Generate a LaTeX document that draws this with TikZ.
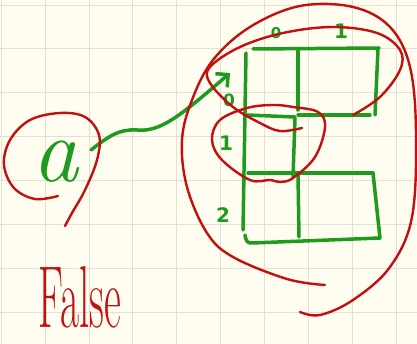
\documentclass[tikz,border=0pt]{standalone}
\usepackage{fontspec}
\newfontfamily\labelfont{DejaVu Sans}
\usetikzlibrary{arrows.meta}
\definecolor{paper}{HTML}{FFFDF0}
\definecolor{gridc}{HTML}{E3E0D3}
\definecolor{pen}{HTML}{1E9A1E}
\definecolor{ink}{HTML}{C40F0F}
\begin{document}
\begin{tikzpicture}[x=1pt,y=-1pt,
  greenline/.style={draw=pen,line width=3.5pt,line cap=round,line join=round},
  redline/.style={draw=ink,line width=2.4pt,line cap=round,line join=round},
  glabel/.style={text=pen,inner sep=0pt,font=\labelfont\bfseries\fontsize{20}{20}\selectfont}]
\fill[paper] (0,0) rectangle (417,344);
\useasboundingbox (0,0) rectangle (417,344);
% grid paper
\foreach \i in {0,...,9} \draw[gridc,line width=0.9pt] ({1.2+43.9*\i},0) -- ++(0,344);
\foreach \j in {0,...,7} \draw[gridc,line width=0.9pt] (0,{5+43.9*\j}) -- ++(417,0);
% variable a
\node[text=pen,inner sep=0pt] (a) at (55,162) {\fontsize{92}{92}\selectfont\itshape a};
\node[text=ink,inner sep=1pt] (false) at (80,297) {\scalebox{0.47}[1]{\fontsize{88}{88}\selectfont False}};
% table lines
\draw[greenline] (253,49) -- (379,48);
\draw[greenline] (246,53) -- (243,230);
\draw[greenline] (298,50) -- (298,110);
\draw[greenline] (378,49) -- (375,115);
\draw[greenline] (247,115) -- (295,117);
\draw[greenline] (298,115) -- (370,115);
\draw[greenline] (295,118) -- (293,177);
\draw[greenline] (248,173) -- (373,173);
\draw[greenline] (373,173) -- (380,238);
\draw[greenline] (298,175) -- (299,237);
\draw[greenline] (245,235) .. controls (246,242) and (248,243) .. (252,243) -- (380,238);
% labels
\node[glabel,font=\labelfont\bfseries\fontsize{15}{15}\selectfont] (c0) at (276,33) {0};
\node[glabel] (c1) at (341,31) {1};
\node[glabel,font=\labelfont\bfseries\fontsize{17}{17}\selectfont] (r0) at (229,100) {0};
\node[glabel] (r1) at (226,143) {1};
\node[glabel] (r2) at (223,215) {2};
% arrow
\coordinate (tail) at (91,150);
\coordinate (tip) at (230,73);
\draw[greenline,-{Straight Barb[length=9pt,width=18pt]}] (tail) .. controls (110,135) and (120,129) .. (137,130)
  .. controls (160,132) and (178,118) .. (tip);
% red strokes
\draw[redline] plot[smooth,tension=0.6] coordinates {(58,196) (35,199) (14,188) (4,165) (10,140) (30,120) (60,113) (85,117) (99,135) (97,160) (85,190) (72,213) (65,226)};
\draw[redline] plot[smooth,tension=0.6] coordinates {(325,285) (287,279) (233,257) (207,233) (187,187) (182,140) (192,100) (213,60) (250,27) (300,6) (353,7) (390,27) (410,67) (416,133) (412,217) (390,267) (353,300) (320,315) (300,312)};
\draw[redline] plot[smooth,tension=0.6] coordinates {(353,115) (380,97) (400,70) (400,50) (377,33) (333,27) (283,33) (240,47) (210,67) (210,83) (233,107) (260,123) (280,131) (302,128)};
\draw[redline] plot[smooth cycle,tension=0.6] coordinates {(293,107) (318,112) (325,127) (315,157) (293,178) (280,182) (270,180) (250,180) (222,160) (212,140) (220,120) (247,108) (273,105)};
\end{tikzpicture}
\end{document}
